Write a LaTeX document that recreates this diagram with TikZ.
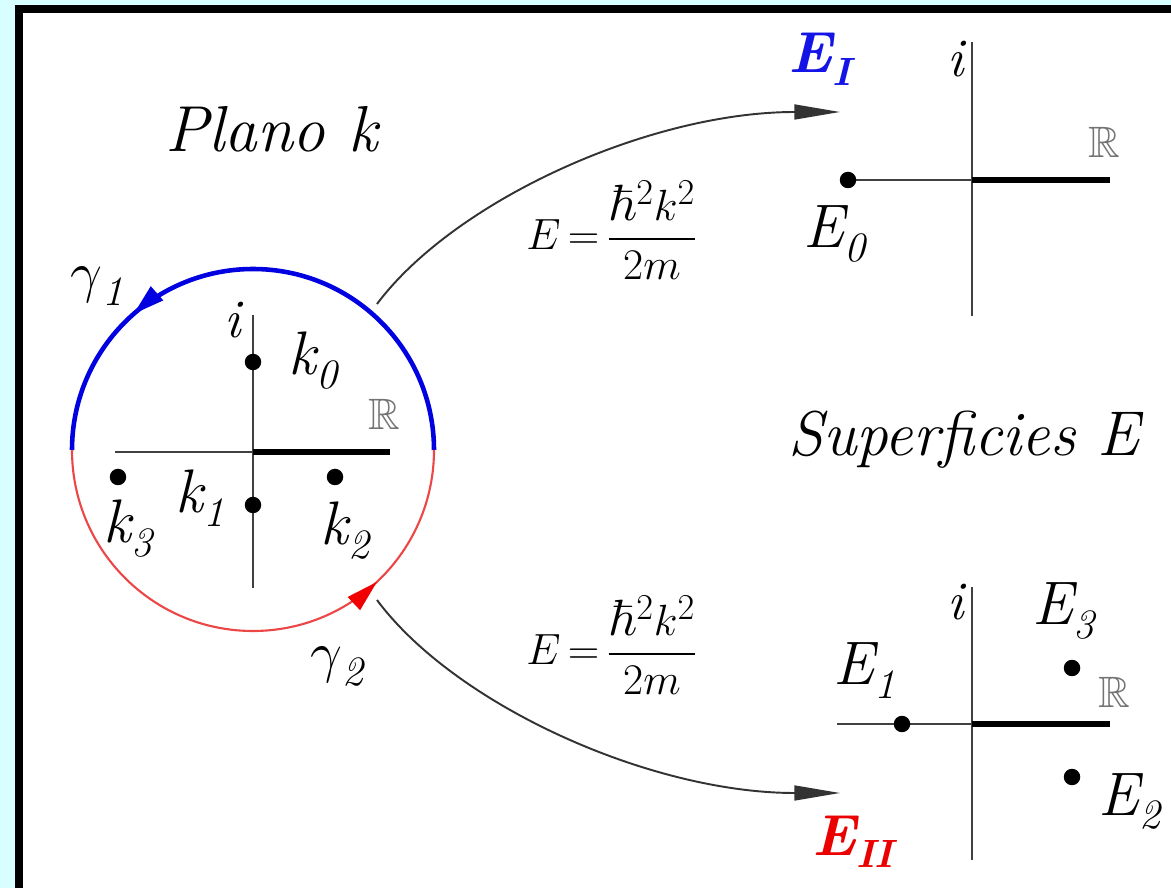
\documentclass[tikz,border=0pt]{standalone}
\usepackage{amsmath,amssymb}
\usetikzlibrary{arrows.meta,decorations.markings}

\definecolor{FrameCyan}{RGB}{216,255,255}
\definecolor{ArcBlue}{RGB}{0,0,225}
\definecolor{ArcRed}{RGB}{236,70,70}
\definecolor{TipRed}{RGB}{240,0,0}
\definecolor{LabelBlue}{RGB}{20,20,230}
\definecolor{LabelRed}{RGB}{235,0,0}

\newcommand{\lowsub}[1]{\raisebox{-0.22em}{\scalebox{0.68}{#1}}}
\newcommand{\biggam}{\scalebox{1.3}{$\gamma$}}

\begin{document}
\begin{tikzpicture}[x=0.02cm,y=0.02cm,
    lbl/.style={font=\fontsize{35}{38}\selectfont\itshape,inner sep=0pt,anchor=base west},
    ttl/.style={font=\fontsize{37}{40}\selectfont\itshape,inner sep=0pt,anchor=base west},
    ilbl/.style={font=\fontsize{31}{34}\selectfont\itshape,inner sep=0pt,anchor=base west},
    rlbl/.style={font=\fontsize{25}{26}\selectfont,text=black!55,inner sep=0pt,anchor=base west},
    eq/.style={font=\fontsize{29}{32}\selectfont,inner sep=0pt,anchor=base west},
    dot/.style={circle,fill=black,inner sep=0pt,minimum size=0.33cm},
    axis/.style={line width=1pt,black!75},
    realax/.style={line width=3pt,black},
    map/.style={-{Triangle[length=26pt,width=8.5pt]},line width=1.1pt,black!80},
    midtip/.style 2 args={postaction={decorate},decoration={markings,
        mark=at position #1 with {\arrow{Triangle[length=18pt,width=10pt,color=#2]}}}}]

    % Frame
    \clip (0,0) rectangle (1171,-888);
    \fill[FrameCyan] (0,0) rectangle (1171,-888);
    \draw[line width=0.16cm,fill=white] (19,-9) rectangle (1190,-892);

    % Plano k
    \node[ttl] (planok) at (165,-152) {Plano k};
    \coordinate (kc) at (253,-450);
    \draw[ArcBlue,line width=2.6pt,midtip={0.73}{ArcBlue}] (434,-450) arc (0:180:181);
    \draw[ArcRed,line width=1.2pt,midtip={0.74}{TipRed}] (72,-450) arc (180:360:181);
    \draw[axis] (253,-315) -- (253,-588);
    \draw[axis] (115,-452) -- (253,-452);
    \draw[realax] (253,-452) -- (390,-452);

    \foreach \n/\x/\y in {k0/253/362, k1/253/505, k3/118/477, k2/335/477}
      \node[dot] (\n) at (\x,-\y) {};

    \node[lbl] (gam1) at (70,-292) {\biggam\lowsub{1}};
    \node[lbl] (gam2) at (310,-672) {\biggam\lowsub{2}};
    \node[ilbl] (ik) at (224,-338) {i};
    \node[rlbl] (rk) at (368,-430) {$\mathbb{R}$};
    \node[lbl] (lk0) at (288,-375) {k\lowsub{0}};
    \node[lbl] (lk1) at (175,-513) {k\lowsub{1}};
    \node[lbl] (lk3) at (103,-543) {k\lowsub{3}};
    \node[lbl] (lk2) at (320,-545) {k\lowsub{2}};

    % Maps
    \coordinate (tailI) at (377,-304);
    \coordinate (headI) at (840,-112);
    \coordinate (tailII) at (377,-600);
    \coordinate (headII) at (840,-793);
    \draw[map] (tailI) .. controls (455,-200) and (650,-112) .. (headI);
    \draw[map] (tailII) .. controls (455,-705) and (650,-793) .. (headII);
    \node[eq] (eqI) at (526,-250)
      {$E\,{=}\,\dfrac{\hbar^{2}k^{2}}{\;2m\;}$};
    \node[eq] (eqII) at (526,-665)
      {$E\,{=}\,\dfrac{\hbar^{2}k^{2}}{\;2m\;}$};

    % Sheet I
    \node[lbl,font=\fontsize{33}{36}\selectfont\bfseries\itshape,text=LabelBlue] (EI) at (788,-73)
      {E\lowsub{I}};
    \draw[axis] (972,-42) -- (972,-316);
    \draw[axis] (848,-180) -- (972,-180);
    \draw[realax] (972,-180) -- (1110,-180);
    \node[dot] (E0) at (848,-180) {};
    \node[ilbl] (iI) at (947,-77) {i};
    \node[rlbl] (rI) at (1088,-158) {$\mathbb{R}$};
    \node[lbl] (lE0) at (803,-248) {E\lowsub{0}};

    \node[ttl,font=\fontsize{36}{40}\selectfont\itshape] (supE) at (788,-456) {Superficies E};

    % Sheet II
    \draw[axis] (972,-587) -- (972,-860);
    \draw[axis] (837,-724) -- (972,-724);
    \draw[realax] (972,-724) -- (1110,-724);
    \foreach \n/\x/\y in {E1/902/724, E3/1072/668, E2/1072/777}
      \node[dot] (\n) at (\x,-\y) {};
    \node[ilbl] (iII) at (947,-620) {i};
    \node[rlbl] (rII) at (1098,-707) {$\mathbb{R}$};
    \node[lbl] (lE1) at (833,-685) {E\lowsub{1}};
    \node[lbl] (lE3) at (1032,-625) {E\lowsub{3}};
    \node[lbl] (lE2) at (1098,-815) {E\lowsub{2}};
    \node[lbl,font=\fontsize{33}{36}\selectfont\bfseries\itshape,text=LabelRed] (EII) at (812,-855)
      {E\lowsub{II}};
\end{tikzpicture}
\end{document}
